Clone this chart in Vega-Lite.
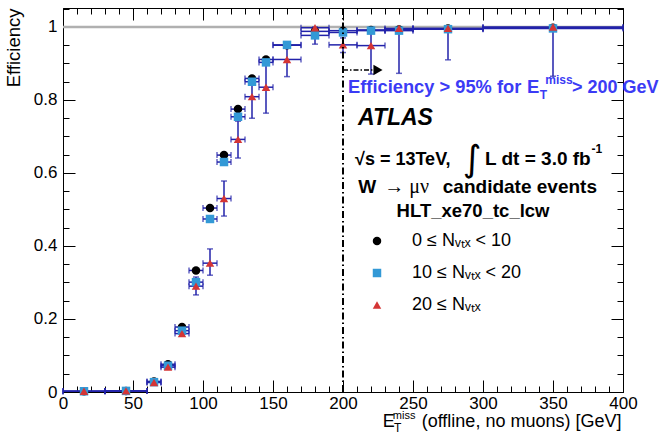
{
  "$schema": "https://vega.github.io/schema/vega-lite/v6.json",
  "width": 560,
  "height": 384,
  "autosize": "none",
  "padding": {"left": 63, "top": 8, "right": 39, "bottom": 42},
  "background": "white",
  "config": {
    "view": {"stroke": "black", "strokeWidth": 1},
    "axis": {"labelFont": "Liberation Sans", "titleFont": "Liberation Sans", "labelColor": "black", "tickColor": "black", "titleColor": "black", "grid": false, "domain": false, "labelFlush": false, "labelOverlap": false, "tickWidth": 1}
  },
  "datasets": {
    "eff": [
      {"s": "0 ≤ Nᵥₜₓ < 10", "x": 15, "xlo": 0, "xhi": 30, "eff": 0.002},
      {"s": "0 ≤ Nᵥₜₓ < 10", "x": 45, "xlo": 30, "xhi": 60, "eff": 0.003},
      {"s": "0 ≤ Nᵥₜₓ < 10", "x": 65, "xlo": 60, "xhi": 70, "eff": 0.029},
      {"s": "0 ≤ Nᵥₜₓ < 10", "x": 75, "xlo": 70, "xhi": 80, "eff": 0.076},
      {"s": "0 ≤ Nᵥₜₓ < 10", "x": 85, "xlo": 80, "xhi": 90, "eff": 0.178},
      {"s": "0 ≤ Nᵥₜₓ < 10", "x": 95, "xlo": 90, "xhi": 100, "eff": 0.333},
      {"s": "0 ≤ Nᵥₜₓ < 10", "x": 105, "xlo": 100, "xhi": 110, "eff": 0.504},
      {"s": "0 ≤ Nᵥₜₓ < 10", "x": 115, "xlo": 110, "xhi": 120, "eff": 0.649},
      {"s": "0 ≤ Nᵥₜₓ < 10", "x": 125, "xlo": 120, "xhi": 130, "eff": 0.775},
      {"s": "0 ≤ Nᵥₜₓ < 10", "x": 135, "xlo": 130, "xhi": 140, "eff": 0.859},
      {"s": "0 ≤ Nᵥₜₓ < 10", "x": 145, "xlo": 140, "xhi": 150, "eff": 0.911},
      {"s": "0 ≤ Nᵥₜₓ < 10", "x": 160, "xlo": 150, "xhi": 170, "eff": 0.95},
      {"s": "0 ≤ Nᵥₜₓ < 10", "x": 180, "xlo": 170, "xhi": 190, "eff": 0.988},
      {"s": "0 ≤ Nᵥₜₓ < 10", "x": 200, "xlo": 190, "xhi": 210, "eff": 0.99},
      {"s": "0 ≤ Nᵥₜₓ < 10", "x": 220, "xlo": 210, "xhi": 230, "eff": 0.992},
      {"s": "0 ≤ Nᵥₜₓ < 10", "x": 240, "xlo": 230, "xhi": 250, "eff": 0.993},
      {"s": "0 ≤ Nᵥₜₓ < 10", "x": 275, "xlo": 250, "xhi": 300, "eff": 0.996},
      {"s": "0 ≤ Nᵥₜₓ < 10", "x": 350, "xlo": 300, "xhi": 400, "eff": 0.998},
      {"s": "10 ≤ Nᵥₜₓ < 20", "x": 15, "xlo": 0, "xhi": 30, "eff": 0.002},
      {"s": "10 ≤ Nᵥₜₓ < 20", "x": 45, "xlo": 30, "xhi": 60, "eff": 0.003},
      {"s": "10 ≤ Nᵥₜₓ < 20", "x": 65, "xlo": 60, "xhi": 70, "eff": 0.027},
      {"s": "10 ≤ Nᵥₜₓ < 20", "x": 75, "xlo": 70, "xhi": 80, "eff": 0.072},
      {"s": "10 ≤ Nᵥₜₓ < 20", "x": 85, "xlo": 80, "xhi": 90, "eff": 0.168},
      {"s": "10 ≤ Nᵥₜₓ < 20", "x": 95, "xlo": 90, "xhi": 100, "eff": 0.301},
      {"s": "10 ≤ Nᵥₜₓ < 20", "x": 105, "xlo": 100, "xhi": 110, "eff": 0.474},
      {"s": "10 ≤ Nᵥₜₓ < 20", "x": 115, "xlo": 110, "xhi": 120, "eff": 0.63},
      {"s": "10 ≤ Nᵥₜₓ < 20", "x": 125, "xlo": 120, "xhi": 130, "eff": 0.754},
      {"s": "10 ≤ Nᵥₜₓ < 20", "x": 135, "xlo": 130, "xhi": 140, "eff": 0.85},
      {"s": "10 ≤ Nᵥₜₓ < 20", "x": 145, "xlo": 140, "xhi": 150, "eff": 0.903},
      {"s": "10 ≤ Nᵥₜₓ < 20", "x": 160, "xlo": 150, "xhi": 170, "eff": 0.951},
      {"s": "10 ≤ Nᵥₜₓ < 20", "x": 180, "xlo": 170, "xhi": 190, "eff": 0.977},
      {"s": "10 ≤ Nᵥₜₓ < 20", "x": 200, "xlo": 190, "xhi": 210, "eff": 0.985},
      {"s": "10 ≤ Nᵥₜₓ < 20", "x": 220, "xlo": 210, "xhi": 230, "eff": 0.99},
      {"s": "10 ≤ Nᵥₜₓ < 20", "x": 240, "xlo": 230, "xhi": 250, "eff": 0.99},
      {"s": "10 ≤ Nᵥₜₓ < 20", "x": 275, "xlo": 250, "xhi": 300, "eff": 0.994},
      {"s": "10 ≤ Nᵥₜₓ < 20", "x": 350, "xlo": 300, "xhi": 400, "eff": 0.996},
      {"s": "20 ≤ Nᵥₜₓ", "x": 15, "xlo": 0, "xhi": 30, "eff": 0.002},
      {"s": "20 ≤ Nᵥₜₓ", "x": 45, "xlo": 30, "xhi": 60, "eff": 0.003},
      {"s": "20 ≤ Nᵥₜₓ", "x": 65, "xlo": 60, "xhi": 70, "eff": 0.026},
      {"s": "20 ≤ Nᵥₜₓ", "x": 75, "xlo": 70, "xhi": 80, "eff": 0.068},
      {"s": "20 ≤ Nᵥₜₓ", "x": 85, "xlo": 80, "xhi": 90, "eff": 0.16},
      {"s": "20 ≤ Nᵥₜₓ", "x": 95, "xlo": 90, "xhi": 100, "eff": 0.29, "elo": 0.266, "ehi": 0.315},
      {"s": "20 ≤ Nᵥₜₓ", "x": 105, "xlo": 100, "xhi": 110, "eff": 0.353, "elo": 0.32, "ehi": 0.392},
      {"s": "20 ≤ Nᵥₜₓ", "x": 115, "xlo": 110, "xhi": 120, "eff": 0.53, "elo": 0.482, "ehi": 0.578},
      {"s": "20 ≤ Nᵥₜₓ", "x": 125, "xlo": 120, "xhi": 130, "eff": 0.692, "elo": 0.641, "ehi": 0.742},
      {"s": "20 ≤ Nᵥₜₓ", "x": 135, "xlo": 130, "xhi": 140, "eff": 0.809, "elo": 0.75, "ehi": 0.864},
      {"s": "20 ≤ Nᵥₜₓ", "x": 145, "xlo": 140, "xhi": 150, "eff": 0.835, "elo": 0.764, "ehi": 0.914},
      {"s": "20 ≤ Nᵥₜₓ", "x": 160, "xlo": 150, "xhi": 170, "eff": 0.911, "elo": 0.864, "ehi": 0.951},
      {"s": "20 ≤ Nᵥₜₓ", "x": 180, "xlo": 170, "xhi": 190, "eff": 0.998, "elo": 0.953, "ehi": 1.0},
      {"s": "20 ≤ Nᵥₜₓ", "x": 200, "xlo": 190, "xhi": 210, "eff": 0.951, "elo": 0.93, "ehi": 0.97},
      {"s": "20 ≤ Nᵥₜₓ", "x": 220, "xlo": 210, "xhi": 230, "eff": 0.949, "elo": 0.871, "ehi": 0.99},
      {"s": "20 ≤ Nᵥₜₓ", "x": 240, "xlo": 230, "xhi": 250, "eff": 0.996, "elo": 0.873, "ehi": 1.0},
      {"s": "20 ≤ Nᵥₜₓ", "x": 275, "xlo": 250, "xhi": 300, "eff": 0.996, "elo": 0.91, "ehi": 1.0},
      {"s": "20 ≤ Nᵥₜₓ", "x": 350, "xlo": 300, "xhi": 400, "eff": 1.0, "elo": 0.865, "ehi": 1.0}
    ]
  },
  "resolve": {"axis": {"x": "independent", "y": "independent"}},
  "layer": [
    {
      "data": {"values": [{}]},
      "mark": {"type": "rule", "color": "#b0b0b0", "strokeWidth": 2.5},
      "encoding": {"y": {"datum": 1, "type": "quantitative", "axis": null, "scale": {"domain": [0, 1.052], "nice": false, "zero": false}}}
    },
    {
      "data": {"name": "eff"},
      "mark": {"type": "rule", "color": "#2222aa", "strokeWidth": 1.5},
      "encoding": {
        "x": {"field": "xlo", "type": "quantitative", "scale": {"domain": [0, 400], "nice": false, "zero": false},
              "axis": {"orient": "bottom", "values": [0, 50, 100, 150, 200, 250, 300, 350, 400], "labels": false, "tickSize": -12, "title": null}},
        "x2": {"field": "xhi"},
        "y": {"field": "eff", "type": "quantitative",
              "axis": {"orient": "left", "values": [0, 0.2, 0.4, 0.6, 0.8, 1.0], "labels": false, "tickSize": -12, "title": null}}
      }
    },
    {
      "data": {"name": "eff"},
      "transform": [{"filter": "isValid(datum.elo)"}],
      "mark": {"type": "rule", "color": "#2222aa", "strokeWidth": 1.5},
      "encoding": {
        "x": {"field": "x", "type": "quantitative",
              "axis": {"orient": "bottom", "values": [0,10,20,30,40,50,60,70,80,90,100,110,120,130,140,150,160,170,180,190,200,210,220,230,240,250,260,270,280,290,300,310,320,330,340,350,360,370,380,390,400], "labels": false, "tickSize": -6, "title": null}},
        "y": {"field": "elo", "type": "quantitative",
              "axis": {"orient": "left", "values": [0,0.05,0.1,0.15,0.2,0.25,0.3,0.35,0.4,0.45,0.5,0.55,0.6,0.65,0.7,0.75,0.8,0.85,0.9,0.95,1.0,1.05], "labels": false, "tickSize": -6, "title": null}},
        "y2": {"field": "ehi"}
      }
    },
    {
      "data": {"name": "eff"},
      "transform": [{"fold": ["xlo", "xhi"], "as": ["k", "xv"]}],
      "mark": {"type": "tick", "orient": "vertical", "color": "#2222aa", "size": 6, "thickness": 1.5},
      "encoding": {
        "x": {"field": "xv", "type": "quantitative",
              "axis": {"orient": "top", "values": [0, 50, 100, 150, 200, 250, 300, 350, 400], "labels": false, "tickSize": -12, "title": null}},
        "y": {"field": "eff", "type": "quantitative",
              "axis": {"orient": "right", "values": [0, 0.2, 0.4, 0.6, 0.8, 1.0], "labels": false, "tickSize": -12, "title": null}}
      }
    },
    {
      "data": {"name": "eff"},
      "transform": [{"fold": ["elo", "ehi"], "as": ["k", "yv"]}, {"filter": "isValid(datum.yv)"}],
      "mark": {"type": "tick", "orient": "horizontal", "color": "#2222aa", "size": 6, "thickness": 1.5},
      "encoding": {
        "x": {"field": "x", "type": "quantitative",
              "axis": {"orient": "top", "values": [0,10,20,30,40,50,60,70,80,90,100,110,120,130,140,150,160,170,180,190,200,210,220,230,240,250,260,270,280,290,300,310,320,330,340,350,360,370,380,390,400], "labels": false, "tickSize": -6, "title": null}},
        "y": {"field": "yv", "type": "quantitative",
              "axis": {"orient": "right", "values": [0,0.05,0.1,0.15,0.2,0.25,0.3,0.35,0.4,0.45,0.5,0.55,0.6,0.65,0.7,0.75,0.8,0.85,0.9,0.95,1.0,1.05], "labels": false, "tickSize": -6, "title": null}}
      }
    },
    {
      "data": {"name": "eff"},
      "mark": {"type": "point", "filled": true, "opacity": 1, "strokeWidth": 0},
      "encoding": {
        "x": {"field": "x", "type": "quantitative",
              "axis": {"orient": "bottom", "values": [0, 50, 100, 150, 200, 250, 300, 350, 400], "ticks": false, "labelFontSize": 17, "labelPadding": 3, "title": null}},
        "y": {"field": "eff", "type": "quantitative",
              "axis": {"orient": "left", "values": [0, 0.2, 0.4, 0.6, 0.8, 1.0], "format": "~g", "ticks": false, "labelFontSize": 17, "labelPadding": 6,
                       "title": "Efficiency", "titleFontSize": 18.5, "titleFontWeight": "normal", "titleAngle": -90, "titleX": -40, "titleY": 0, "titleAlign": "right", "titleBaseline": "bottom"}},
        "size": {"field": "s", "type": "nominal", "legend": null,
                 "scale": {"domain": ["0 ≤ Nᵥₜₓ < 10", "10 ≤ Nᵥₜₓ < 20", "20 ≤ Nᵥₜₓ"], "range": [72, 72, 100]}},
        "color": {"field": "s", "type": "nominal",
                  "scale": {"domain": ["0 ≤ Nᵥₜₓ < 10", "10 ≤ Nᵥₜₓ < 20", "20 ≤ Nᵥₜₓ"], "range": ["#000000", "#3399d6", "#d43535"]},
                  "legend": {"orient": "none", "legendX": 305, "legendY": 224, "title": null, "labelFont": "Liberation Sans", "labelFontSize": 18, "labelColor": "black", "symbolSize": 45, "rowPadding": 14, "labelOffset": 26, "padding": 0, "symbolStrokeWidth": 0}},
        "shape": {"field": "s", "type": "nominal",
                  "scale": {"domain": ["0 ≤ Nᵥₜₓ < 10", "10 ≤ Nᵥₜₓ < 20", "20 ≤ Nᵥₜₓ"], "range": ["circle", "square", "triangle-up"]},
                  "legend": {"orient": "none", "legendX": 305, "legendY": 224, "title": null, "labelFont": "Liberation Sans", "labelFontSize": 18, "labelColor": "black", "symbolSize": 45, "rowPadding": 14, "labelOffset": 26, "padding": 0, "symbolStrokeWidth": 0}}
      }
    },
    {
      "data": {"values": [{}]},
      "mark": {"type": "rule", "color": "black", "strokeWidth": 2, "strokeDash": [7, 3, 1.5, 3]},
      "encoding": {"x": {"datum": 200, "type": "quantitative", "axis": null}}
    },
    {
      "data": {"values": [{}]},
      "mark": {"type": "rule", "color": "black", "strokeWidth": 1.5, "strokeDash": [5, 2, 1.5, 2]},
      "encoding": {"x": {"datum": 200, "type": "quantitative", "axis": null}, "x2": {"datum": 221}, "y": {"datum": 0.882, "type": "quantitative", "axis": null}}
    },
    {
      "data": {"values": [{}]},
      "mark": {"type": "point", "shape": "triangle-right", "filled": true, "color": "black", "opacity": 1, "size": 110},
      "encoding": {"x": {"datum": 225, "type": "quantitative", "axis": null}, "y": {"datum": 0.882, "type": "quantitative", "axis": null}}
    },
    {
      "data": {"values": [{}]},
      "mark": {"type": "text", "text": "Efficiency > 95% for", "align": "left", "baseline": "alphabetic", "font": "Liberation Sans", "fontSize": 18.3, "fontWeight": "bold", "color": "#3b3bf5"},
      "encoding": {"x": {"datum": 203.6, "type": "quantitative", "axis": null}, "y": {"datum": 0.818, "type": "quantitative", "axis": null}}
    },
    {
      "data": {"values": [{}]},
      "mark": {"type": "text", "text": "E", "align": "left", "baseline": "alphabetic", "font": "Liberation Sans", "fontSize": 18.5, "fontWeight": "bold", "color": "#3b3bf5"},
      "encoding": {"x": {"datum": 331.5, "type": "quantitative", "axis": null}, "y": {"datum": 0.818, "type": "quantitative", "axis": null}}
    },
    {
      "data": {"values": [{}]},
      "mark": {"type": "text", "text": "T", "align": "left", "baseline": "alphabetic", "font": "Liberation Sans", "fontSize": 12, "fontWeight": "bold", "color": "#3b3bf5"},
      "encoding": {"x": {"datum": 340.5, "type": "quantitative", "axis": null}, "y": {"datum": 0.803, "type": "quantitative", "axis": null}}
    },
    {
      "data": {"values": [{}]},
      "mark": {"type": "text", "text": "miss", "align": "left", "baseline": "alphabetic", "font": "Liberation Sans", "fontSize": 12, "fontWeight": "bold", "color": "#3b3bf5"},
      "encoding": {"x": {"datum": 344.5, "type": "quantitative", "axis": null}, "y": {"datum": 0.844, "type": "quantitative", "axis": null}}
    },
    {
      "data": {"values": [{}]},
      "mark": {"type": "text", "text": "> 200 GeV", "align": "left", "baseline": "alphabetic", "font": "Liberation Sans", "fontSize": 18, "fontWeight": "bold", "color": "#3b3bf5"},
      "encoding": {"x": {"datum": 363.6, "type": "quantitative", "axis": null}, "y": {"datum": 0.818, "type": "quantitative", "axis": null}}
    },
    {
      "data": {"values": [{}]},
      "mark": {"type": "text", "text": "ATLAS", "align": "left", "baseline": "alphabetic", "font": "Liberation Sans", "fontSize": 23, "fontWeight": "bold", "fontStyle": "italic", "color": "black"},
      "encoding": {"x": {"datum": 210.7, "type": "quantitative", "axis": null}, "y": {"datum": 0.7315, "type": "quantitative", "axis": null}}
    },
    {
      "data": {"values": [{}]},
      "mark": {"type": "text", "text": "√s = 13TeV,", "align": "left", "baseline": "alphabetic", "font": "Liberation Sans", "fontSize": 18, "fontWeight": "bold", "color": "black"},
      "encoding": {"x": {"datum": 208.6, "type": "quantitative", "axis": null}, "y": {"datum": 0.622, "type": "quantitative", "axis": null}}
    },
    {
      "data": {"values": [{}]},
      "mark": {"type": "text", "text": "∫", "align": "left", "baseline": "alphabetic", "font": "DejaVu Sans", "fontSize": 36, "fontWeight": "normal", "color": "black"},
      "encoding": {"x": {"datum": 285.5, "type": "quantitative", "axis": null}, "y": {"datum": 0.606, "type": "quantitative", "axis": null}}
    },
    {
      "data": {"values": [{}]},
      "mark": {"type": "text", "text": "L dt = 3.0 fb", "align": "left", "baseline": "alphabetic", "font": "Liberation Sans", "fontSize": 19, "fontWeight": "bold", "color": "black"},
      "encoding": {"x": {"datum": 301.4, "type": "quantitative", "axis": null}, "y": {"datum": 0.622, "type": "quantitative", "axis": null}}
    },
    {
      "data": {"values": [{}]},
      "mark": {"type": "text", "text": "-1", "align": "left", "baseline": "alphabetic", "font": "Liberation Sans", "fontSize": 12, "fontWeight": "bold", "color": "black"},
      "encoding": {"x": {"datum": 377.5, "type": "quantitative", "axis": null}, "y": {"datum": 0.655, "type": "quantitative", "axis": null}}
    },
    {
      "data": {"values": [{}]},
      "mark": {"type": "text", "text": "W", "align": "left", "baseline": "alphabetic", "font": "Liberation Sans", "fontSize": 19, "fontWeight": "bold", "color": "black"},
      "encoding": {"x": {"datum": 210.9, "type": "quantitative", "axis": null}, "y": {"datum": 0.545, "type": "quantitative", "axis": null}}
    },
    {
      "data": {"values": [{}]},
      "mark": {"type": "text", "text": "→ μν", "align": "left", "baseline": "alphabetic", "font": "Liberation Serif", "fontSize": 20, "fontWeight": "normal", "color": "black"},
      "encoding": {"x": {"datum": 229.5, "type": "quantitative", "axis": null}, "y": {"datum": 0.545, "type": "quantitative", "axis": null}}
    },
    {
      "data": {"values": [{}]},
      "mark": {"type": "text", "text": "candidate events", "align": "right", "baseline": "alphabetic", "font": "Liberation Sans", "fontSize": 19, "fontWeight": "bold", "color": "black"},
      "encoding": {"x": {"datum": 381.4, "type": "quantitative", "axis": null}, "y": {"datum": 0.545, "type": "quantitative", "axis": null}}
    },
    {
      "data": {"values": [{}]},
      "mark": {"type": "text", "text": "HLT_xe70_tc_lcw", "align": "left", "baseline": "alphabetic", "font": "Liberation Sans", "fontSize": 18.5, "fontWeight": "bold", "color": "black"},
      "encoding": {"x": {"datum": 238.3, "type": "quantitative", "axis": null}, "y": {"datum": 0.48, "type": "quantitative", "axis": null}}
    },
    {
      "data": {"values": [{}]},
      "mark": {"type": "text", "text": "E", "align": "left", "baseline": "alphabetic", "font": "Liberation Sans", "fontSize": 18, "color": "black"},
      "encoding": {"x": {"datum": 228.4, "type": "quantitative", "axis": null}, "y": {"datum": -0.0959, "type": "quantitative", "axis": null}}
    },
    {
      "data": {"values": [{}]},
      "mark": {"type": "text", "text": "T", "align": "left", "baseline": "alphabetic", "font": "Liberation Sans", "fontSize": 12, "color": "black"},
      "encoding": {"x": {"datum": 236.4, "type": "quantitative", "axis": null}, "y": {"datum": -0.1096, "type": "quantitative", "axis": null}}
    },
    {
      "data": {"values": [{}]},
      "mark": {"type": "text", "text": "miss", "align": "left", "baseline": "alphabetic", "font": "Liberation Sans", "fontSize": 11, "color": "black"},
      "encoding": {"x": {"datum": 235.6, "type": "quantitative", "axis": null}, "y": {"datum": -0.074, "type": "quantitative", "axis": null}}
    },
    {
      "data": {"values": [{}]},
      "mark": {"type": "text", "text": "(offline, no muons) [GeV]", "align": "left", "baseline": "alphabetic", "font": "Liberation Sans", "fontSize": 18, "color": "black"},
      "encoding": {"x": {"datum": 256.2, "type": "quantitative", "axis": null}, "y": {"datum": -0.0959, "type": "quantitative", "axis": null}}
    }
  ]
}
